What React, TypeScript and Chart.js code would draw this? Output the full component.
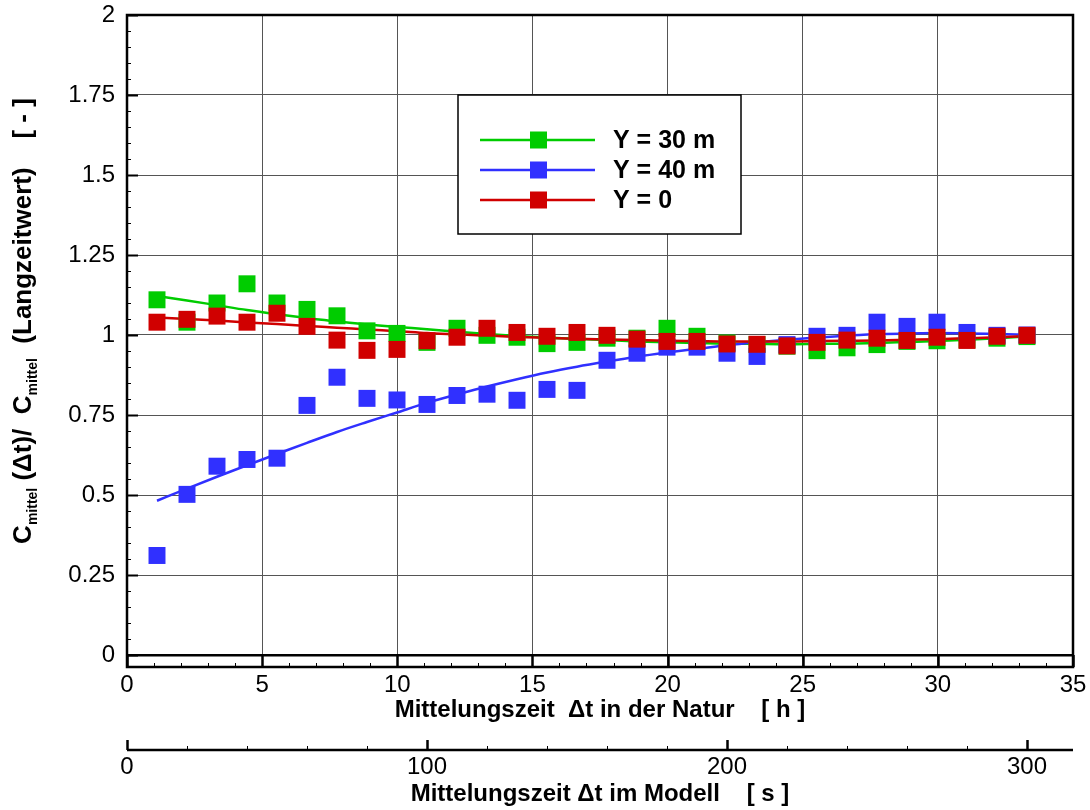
import { useEffect, useRef } from 'react';
import { Chart, registerables } from 'chart.js';

Chart.register(...registerables);

// Model averaging time of each sample [s] (secondary axis)
const modelSeconds = [10, 20, 30, 40, 50, 60, 70, 80, 90, 100, 110, 120, 130, 140, 150, 160, 170, 180, 190, 200, 210, 220, 230, 240, 250, 260, 270, 280, 290, 300];

// Measured ratios
const y30 = [1.11, 1.04, 1.10, 1.16, 1.10, 1.08, 1.06, 1.013, 1.005, 0.977, 1.021, 0.999, 0.993, 0.973, 0.977, 0.99, 0.99, 1.021, 0.996, 0.975, 0.97, 0.965, 0.951, 0.96, 0.97, 0.98, 0.982, 0.985, 0.99, 0.995];
const y40 = [0.311, 0.502, 0.59, 0.611, 0.615, 0.78, 0.868, 0.802, 0.797, 0.783, 0.811, 0.815, 0.796, 0.83, 0.827, 0.921, 0.943, 0.962, 0.962, 0.943, 0.933, 0.97, 0.996, 0.999, 1.04, 1.027, 1.04, 1.008, 0.999, 1.0];
const y0 = [1.04, 1.049, 1.059, 1.04, 1.068, 1.027, 0.984, 0.952, 0.955, 0.982, 0.993, 1.021, 1.008, 0.996, 1.008, 0.999, 0.987, 0.98, 0.98, 0.972, 0.971, 0.966, 0.977, 0.984, 0.99, 0.983, 0.993, 0.983, 0.996, 0.999];

// Fitted trend curves
const fit30 = [1.122, 1.108, 1.093, 1.078, 1.065, 1.053, 1.042, 1.033, 1.025, 1.018, 1.01, 1.003, 0.997, 0.992, 0.988, 0.984, 0.98, 0.977, 0.975, 0.973, 0.972, 0.971, 0.972, 0.973, 0.975, 0.978, 0.981, 0.985, 0.99, 0.996];
const fit40 = [0.482, 0.52, 0.557, 0.593, 0.628, 0.663, 0.697, 0.728, 0.758, 0.788, 0.814, 0.839, 0.862, 0.883, 0.901, 0.917, 0.932, 0.945, 0.957, 0.968, 0.977, 0.985, 0.992, 0.998, 1.002, 1.005, 1.006, 1.005, 1.003, 1.001];
const fit0 = [1.055, 1.05, 1.045, 1.039, 1.034, 1.028, 1.023, 1.017, 1.012, 1.006, 1.002, 0.998, 0.994, 0.991, 0.988, 0.986, 0.984, 0.982, 0.981, 0.98, 0.98, 0.98, 0.981, 0.982, 0.983, 0.985, 0.987, 0.99, 0.993, 0.997];

const seriesLabels = ['Y = 30 m', 'Y = 40 m', 'Y = 0'];
const seriesColors = ['#00cc00', '#3030ff', '#d00000'];

const xTicks = [0, 5, 10, 15, 20, 25, 30, 35];
const xTickLabels = ['0', '5', '10', '15', '20', '25', '30', '35'];
const x2Ticks = [0, 100, 200, 300];
const x2TickLabels = ['0', '100', '200', '300'];
const yTicks = [0, 0.25, 0.5, 0.75, 1, 1.25, 1.5, 1.75, 2];
const yTickLabels = ['0', '0.25', '0.5', '0.75', '1', '1.25', '1.5', '1.75', '2'];

const xTitle = 'Mittelungszeit  \u0394t in der Natur    [ h ]';
const x2Title = 'Mittelungszeit \u0394t im Modell    [ s ]';
const yTitleParts = [
  { text: 'C', sub: false },
  { text: 'mittel', sub: true },
  { text: ' (\u0394t)/  C', sub: false },
  { text: 'mittel', sub: true },
  { text: '  (Langzeitwert)    [ - ]', sub: false },
];

const FONT = '"Liberation Sans", Arial, Helvetica, sans-serif';

const decorPlugin = {
  id: 'decor',
  afterDraw(chart: any) {
    const ctx = chart.ctx as CanvasRenderingContext2D;
    const x = chart.scales.x;
    const y = chart.scales.y;
    const x2 = chart.scales.x2;
    const area = chart.chartArea;
    ctx.save();
    ctx.strokeStyle = '#000';
    ctx.lineCap = 'butt';

    // y ticks (inward, left)
    for (let i = 0; i <= 40; i++) {
      const v = i * 0.05;
      const py = Math.round(y.getPixelForValue(v)) + 0.5;
      const major = i % 5 === 0;
      ctx.lineWidth = major ? 2 : 1;
      ctx.beginPath();
      ctx.moveTo(area.left, py);
      ctx.lineTo(area.left + (major ? 11 : 4), py);
      ctx.stroke();
    }
    // x ticks (inward, bottom)
    for (let i = 0; i <= 35; i++) {
      const px = Math.round(x.getPixelForValue(i)) + 0.5;
      const major = i % 5 === 0;
      ctx.lineWidth = major ? 2.5 : 1;
      ctx.beginPath();
      ctx.moveTo(px, area.bottom);
      ctx.lineTo(px, area.bottom - (major ? 12 : 4));
      ctx.stroke();
    }
    // frame
    ctx.lineWidth = 2.5;
    ctx.strokeRect(area.left, area.top, area.right - area.left, area.bottom - area.top);

    // secondary axis line and ticks
    const ly = x2.top;
    ctx.lineWidth = 2.5;
    ctx.beginPath();
    ctx.moveTo(x2.left, ly);
    ctx.lineTo(x2.right, ly);
    ctx.stroke();
    for (let s = 0; s <= 300; s += 20) {
      const px = Math.round(x2.getPixelForValue(s)) + 0.5;
      const major = s % 100 === 0;
      ctx.lineWidth = major ? 2.5 : 1;
      ctx.beginPath();
      ctx.moveTo(px, ly);
      ctx.lineTo(px, ly - (major ? 10 : 4));
      ctx.stroke();
    }

    // legend
    const bx = 458, by = 95, bw = 283, bh = 139;
    ctx.fillStyle = '#fff';
    ctx.fillRect(bx, by, bw, bh);
    ctx.lineWidth = 1.5;
    ctx.strokeStyle = '#000';
    ctx.strokeRect(bx, by, bw, bh);
    seriesLabels.forEach((lab, i) => {
      const cy = 140 + i * 30;
      ctx.strokeStyle = seriesColors[i];
      ctx.lineWidth = 2.5;
      ctx.beginPath();
      ctx.moveTo(480, cy);
      ctx.lineTo(595, cy);
      ctx.stroke();
      ctx.fillStyle = seriesColors[i];
      ctx.fillRect(530, cy - 8.5, 17, 17);
      ctx.fillStyle = '#000';
      ctx.font = `bold 25px ${FONT}`;
      ctx.textAlign = 'left';
      ctx.textBaseline = 'middle';
      ctx.fillText(lab, 613, cy + 1);
    });

    // y title with subscripts
    ctx.save();
    ctx.translate(24, 321);
    ctx.rotate(-Math.PI / 2);
    ctx.fillStyle = '#000';
    ctx.textBaseline = 'middle';
    ctx.textAlign = 'left';
    const mainFont = `bold 26px ${FONT}`;
    const subFont = `bold 14px ${FONT}`;
    let total = 0;
    const widths = yTitleParts.map((p) => {
      ctx.font = p.sub ? subFont : mainFont;
      const w = ctx.measureText(p.text).width;
      total += w;
      return w;
    });
    let cx = -total / 2;
    yTitleParts.forEach((p, i) => {
      ctx.font = p.sub ? subFont : mainFont;
      ctx.fillText(p.text, cx, p.sub ? 9 : 0);
      cx += widths[i];
    });
    ctx.restore();

    ctx.restore();
  },
};

export default function App() {
  const ref = useRef<HTMLCanvasElement>(null);
  useEffect(() => {
    const canvas = ref.current;
    if (!canvas) return;
    const pts = (ys: number[]) => modelSeconds.map((s, i) => ({ x: s, y: ys[i] }));
    const markerDs = (ys: number[], i: number, order: number) => ({
      label: seriesLabels[i],
      data: pts(ys),
      xAxisID: 'x2',
      yAxisID: 'y',
      showLine: false,
      pointStyle: 'rect',
      pointRadius: 12,
      pointHoverRadius: 12,
      pointBorderWidth: 0,
      pointBackgroundColor: seriesColors[i],
      backgroundColor: seriesColors[i],
      borderColor: seriesColors[i],
      order,
    });
    const lineDs = (ys: number[], i: number, order: number) => ({
      label: seriesLabels[i] + ' fit',
      data: pts(ys),
      xAxisID: 'x2',
      yAxisID: 'y',
      showLine: true,
      pointRadius: 0,
      borderColor: seriesColors[i],
      borderWidth: 2.5,
      cubicInterpolationMode: 'monotone',
      fill: false,
      order,
    });
    const chart = new Chart(canvas, {
      type: 'scatter',
      data: {
        datasets: [
          markerDs(y0, 2, 0),
          markerDs(y40, 1, 1),
          markerDs(y30, 0, 2),
          lineDs(fit0, 2, 3),
          lineDs(fit40, 1, 4),
          lineDs(fit30, 0, 5),
        ] as any,
      },
      options: {
        responsive: false,
        animation: false,
        devicePixelRatio: 1,
        layout: { padding: { left: 0, right: 17, top: 15, bottom: 0 } },
        plugins: { legend: { display: false }, tooltip: { enabled: false } },
        scales: {
          x: {
            type: 'linear',
            position: 'bottom',
            weight: 0,
            min: 0,
            max: 35,
            afterBuildTicks: (s: any) => { s.ticks = xTicks.map((v) => ({ value: v })); },
            afterFit: (s: any) => { s.height = 83; s.paddingLeft = 0; s.paddingRight = 0; },
            ticks: {
              callback: (v: any) => xTickLabels[xTicks.indexOf(Number(v))] ?? '',
              font: { family: FONT, size: 24 },
              color: '#000',
              padding: 4,
              maxRotation: 0,
              autoSkip: false,
            },
            grid: { color: '#555555', lineWidth: 1, drawTicks: false },
            border: { display: false },
            title: {
              display: true,
              text: xTitle,
              color: '#000',
              font: { family: FONT, size: 24, weight: 'bold' },
              padding: { top: 0, bottom: 25 },
            },
          },
          x2: {
            type: 'linear',
            position: 'bottom',
            weight: 1,
            min: 0,
            max: 315.33,
            afterBuildTicks: (s: any) => { s.ticks = x2Ticks.map((v) => ({ value: v })); },
            afterFit: (s: any) => { s.height = 60; s.paddingLeft = 0; s.paddingRight = 0; },
            ticks: {
              callback: (v: any) => x2TickLabels[x2Ticks.indexOf(Number(v))] ?? '',
              font: { family: FONT, size: 24 },
              color: '#000',
              padding: 3,
              maxRotation: 0,
              autoSkip: false,
            },
            grid: { display: false, drawTicks: false },
            border: { display: false },
            title: {
              display: true,
              text: x2Title,
              color: '#000',
              font: { family: FONT, size: 24, weight: 'bold' },
              padding: { top: 0, bottom: 1 },
            },
          },
          y: {
            type: 'linear',
            position: 'left',
            min: -0.0375,
            max: 2,
            afterBuildTicks: (s: any) => { s.ticks = yTicks.map((v) => ({ value: v })); },
            afterFit: (s: any) => { s.width = 127; s.paddingTop = 0; s.paddingBottom = 0; },
            ticks: {
              callback: (v: any) => yTickLabels[yTicks.indexOf(Number(v))] ?? '',
              font: { family: FONT, size: 24 },
              color: '#000',
              padding: 12,
              autoSkip: false,
            },
            grid: {
              drawTicks: false,
              color: (c: any) => (c.tick && c.tick.value === 0 ? '#000' : '#555555'),
              lineWidth: (c: any) => (c.tick && c.tick.value === 0 ? 2.5 : 1),
            },
            border: { display: false },
          },
        },
      },
      plugins: [decorPlugin],
    });
    return () => chart.destroy();
  }, []);
  return (
    <div style={{ position: 'absolute', left: 0, top: 0, width: 1090, height: 810, background: '#fff' }}>
      <canvas ref={ref} width={1090} height={810} style={{ display: 'block', width: 1090, height: 810 }} />
    </div>
  );
}
